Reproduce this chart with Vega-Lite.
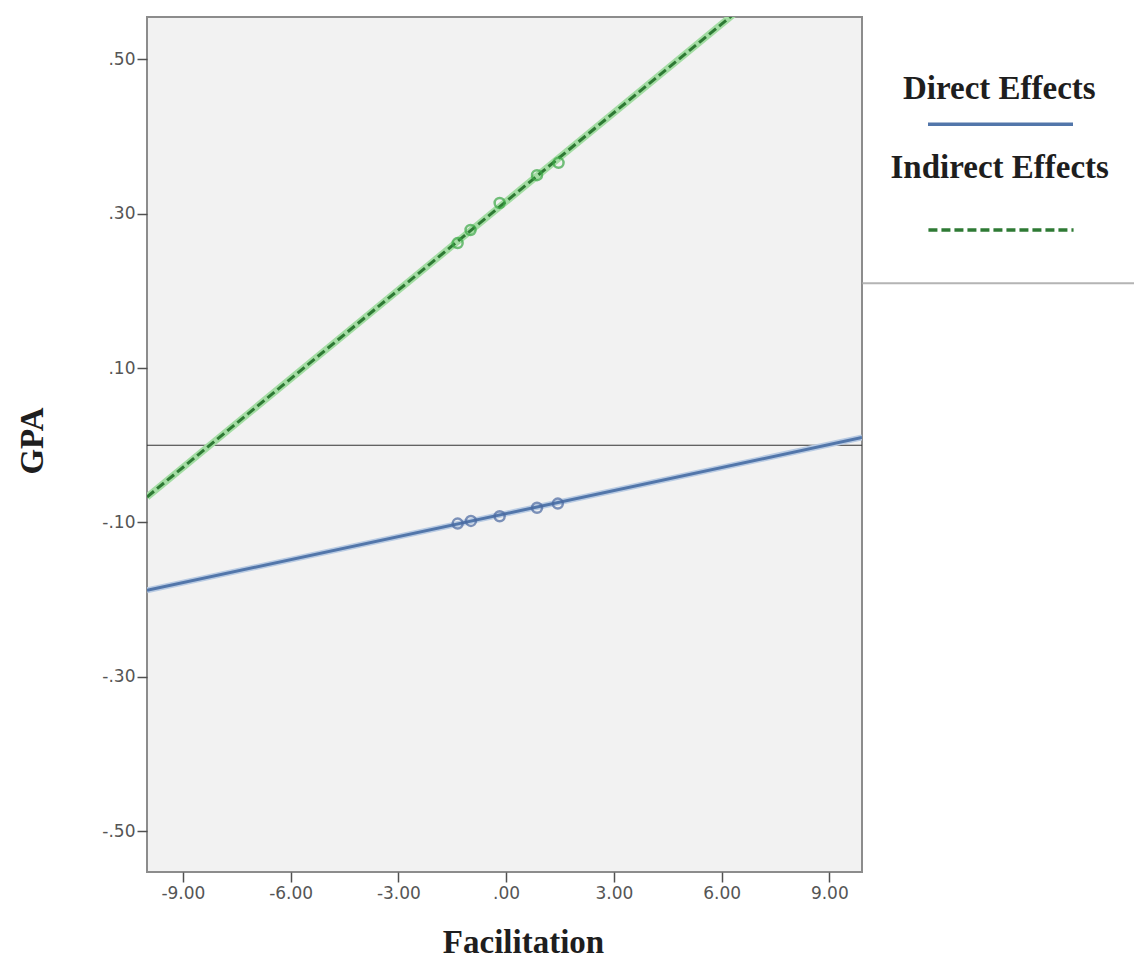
{
  "$schema": "https://vega.github.io/schema/vega-lite/v6.json",
  "width": 715,
  "height": 855,
  "autosize": {"type": "none"},
  "padding": {"left": 147, "top": 17, "right": 272, "bottom": 86},
  "background": "white",
  "config": {
    "view": {"stroke": "#8c8c8c", "strokeWidth": 2, "fill": "#f2f2f2"},
    "axis": {
      "domain": false,
      "grid": false,
      "tickColor": "#505050",
      "tickWidth": 1.5,
      "tickSize": 10,
      "labelFont": "DejaVu Sans",
      "labelFontSize": 17,
      "labelColor": "#555555",
      "titleFont": "Liberation Serif",
      "titleFontSize": 33,
      "titleFontWeight": "bold",
      "titleColor": "#1e1e1e"
    }
  },
  "datasets": {
    "lines": [
      {"effect": "Direct Effects", "x": -10, "y": -0.188},
      {"effect": "Direct Effects", "x": 9.91, "y": 0.010},
      {"effect": "Indirect Effects", "x": -10, "y": -0.067},
      {"effect": "Indirect Effects", "x": 6.5, "y": 0.565}
    ],
    "points": [
      {"effect": "Direct Effects", "x": -1.35, "y": -0.1015},
      {"effect": "Direct Effects", "x": -0.98, "y": -0.098},
      {"effect": "Direct Effects", "x": -0.18, "y": -0.092},
      {"effect": "Direct Effects", "x": 0.86, "y": -0.081},
      {"effect": "Direct Effects", "x": 1.44, "y": -0.0756},
      {"effect": "Indirect Effects", "x": -1.35, "y": 0.262},
      {"effect": "Indirect Effects", "x": -0.99, "y": 0.279},
      {"effect": "Indirect Effects", "x": -0.18, "y": 0.314},
      {"effect": "Indirect Effects", "x": 0.86, "y": 0.350},
      {"effect": "Indirect Effects", "x": 1.46, "y": 0.366}
    ],
    "zero": [{"y": 0}]
  },
  "encoding": {
    "x": {
      "field": "x",
      "type": "quantitative",
      "scale": {"domain": [-10, 9.91], "nice": false, "zero": false},
      "axis": {
        "values": [-9, -6, -3, 0, 3, 6, 9],
        "labelExpr": "datum.value == 0 ? '.00' : (datum.value < 0 ? '-' + format(-datum.value, '.2f') : format(datum.value, '.2f'))",
        "labelPadding": 3,
        "title": "Facilitation",
        "titleX": 376,
        "titleY": 80,
        "titleBaseline": "alphabetic",
        "titleAlign": "center"
      }
    },
    "y": {
      "field": "y",
      "type": "quantitative",
      "scale": {"domain": [-0.553, 0.555], "nice": false, "zero": false},
      "axis": {
        "values": [-0.5, -0.3, -0.1, 0.1, 0.3, 0.5],
        "labelExpr": "datum.value < 0 ? '-' + slice(format(-datum.value, '.2f'), 1) : slice(format(datum.value, '.2f'), 1)",
        "labelPadding": 2,
        "title": "GPA",
        "titleX": -105,
        "titleY": 423.5,
        "titleAngle": 270,
        "titleBaseline": "alphabetic",
        "titleAlign": "center"
      }
    }
  },
  "layer": [
    {
      "data": {"name": "zero"},
      "mark": {"type": "rule", "color": "#333333", "strokeWidth": 1.2},
      "encoding": {"y": {"field": "y", "type": "quantitative"}, "x": null}
    },
    {
      "data": {"name": "lines"},
      "transform": [{"filter": "datum.effect == 'Direct Effects'"}],
      "mark": {"type": "line", "color": "#b9cbe3", "strokeWidth": 6, "clip": true}
    },
    {
      "data": {"name": "lines"},
      "transform": [{"filter": "datum.effect == 'Direct Effects'"}],
      "mark": {"type": "line", "strokeWidth": 3, "clip": true},
      "encoding": {
        "color": {
          "field": "effect",
          "type": "nominal",
          "scale": {"domain": ["Direct Effects"], "range": ["#5276aa"]},
          "legend": {
            "title": "Direct Effects",
            "orient": "none",
            "legendX": 756,
            "legendY": 56.3,
            "padding": 0,
            "titleFont": "Liberation Serif",
            "titleFontSize": 33,
            "titleFontWeight": "bold",
            "titleColor": "#1e1e1e",
            "titleAnchor": "start",
            "titleAlign": "left",
            "titlePadding": 1.5,
            "titleLimit": 400,
            "labelExpr": "''",
            "labelFontSize": 1,
            "labelOffset": 0,
            "symbolType": "M-5,0H5",
            "symbolSize": 841,
            "symbolStrokeWidth": 3.5,
            "symbolOffset": 81
          }
        }
      }
    },
    {
      "data": {"name": "points"},
      "transform": [{"filter": "datum.effect == 'Direct Effects'"}],
      "mark": {"type": "point", "shape": "circle", "filled": false, "stroke": "#4a68a0", "strokeWidth": 2.5, "size": 100}
    },
    {
      "data": {"name": "lines"},
      "transform": [{"filter": "datum.effect == 'Indirect Effects'"}],
      "mark": {"type": "line", "color": "#a3dca3", "strokeWidth": 7, "clip": true}
    },
    {
      "data": {"name": "lines"},
      "transform": [{"filter": "datum.effect == 'Indirect Effects'"}],
      "mark": {"type": "line", "strokeWidth": 3, "strokeDash": [9, 4], "clip": true},
      "encoding": {
        "color": {
          "field": "effect",
          "type": "nominal",
          "scale": {"domain": ["Indirect Effects"], "range": ["#2e7a34"]},
          "legend": {
            "title": "Indirect Effects",
            "orient": "none",
            "legendX": 697.5,
            "legendY": 89.3,
            "padding": 46,
            "strokeColor": "#b4b4b4",
            "titleFont": "Liberation Serif",
            "titleFontSize": 33,
            "titleFontWeight": "bold",
            "titleColor": "#1e1e1e",
            "titleAnchor": "start",
            "titleAlign": "left",
            "titlePadding": 23.7,
            "titleLimit": 400,
            "labelExpr": "''",
            "labelFontSize": 1,
            "labelOffset": 0,
            "symbolType": "M-3.77,0H3.77",
            "symbolSize": 1482,
            "symbolStrokeWidth": 3.5,
            "symbolDash": [9, 4],
            "symbolOffset": 89.5,
            "encode": {
              "legend": {
                "update": {
                  "strokeDash": {"value": [0, 399, 382, 1000]},
                  "strokeWidth": {"value": 2}
                }
              }
            }
          }
        }
      }
    },
    {
      "data": {"name": "points"},
      "transform": [{"filter": "datum.effect == 'Indirect Effects'"}],
      "mark": {"type": "point", "shape": "circle", "filled": false, "stroke": "#3aa845", "strokeWidth": 2.5, "size": 100}
    }
  ],
  "resolve": {"scale": {"color": "independent"}}
}
